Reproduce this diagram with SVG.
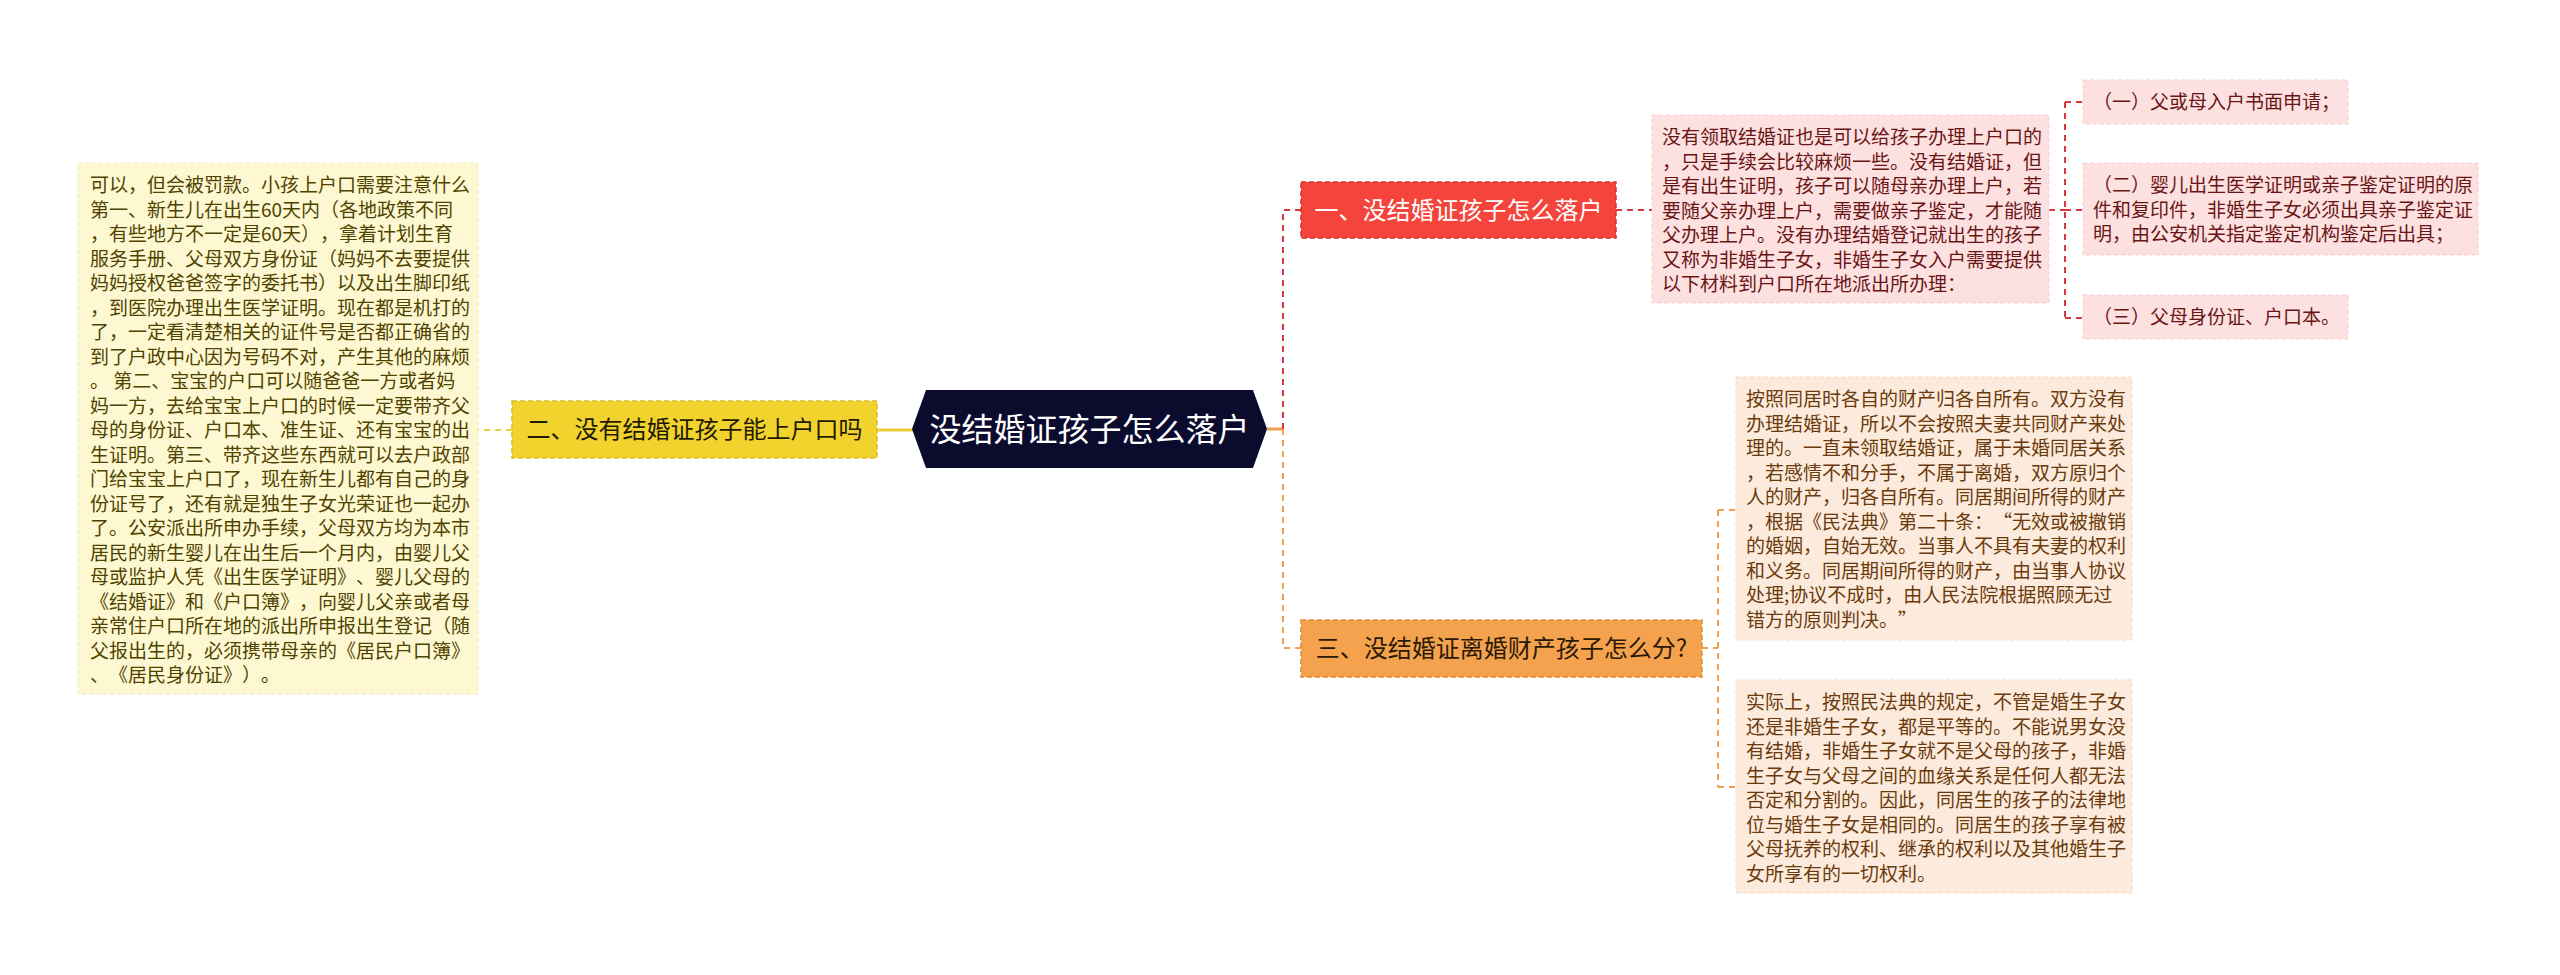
<svg xmlns="http://www.w3.org/2000/svg" width="2560" height="975" viewBox="0 0 2560 975" xml:lang="zh-CN">
<style>
text{font-family:"Noto Sans CJK SC","Noto Sans CJK TC",sans-serif;font-kerning:none;font-feature-settings:"kern" 0;text-spacing-trim:space-all;}
.body{font-size:19px;}
.lbl{font-size:24px;}
.box-y{fill:#fef8d2;stroke:#f3e7ad;stroke-width:1;stroke-dasharray:4 3;}
.box-p{fill:#fde0e0;stroke:#f7cccc;stroke-width:1;stroke-dasharray:4 3;}
.box-o{fill:#fcebdc;stroke:#f5d9bf;stroke-width:1;stroke-dasharray:4 3;}
.t-y{fill:#4f4300;}
.t-p{fill:#6a1515;}
.t-o{fill:#6b3a0c;}
.c-red{fill:none;stroke:#d9363e;stroke-width:2;stroke-dasharray:6 5;}
.c-org{fill:none;stroke:#f0a150;stroke-width:2;stroke-dasharray:6 5;}
.c-yel{fill:none;stroke:#ebcf3a;stroke-width:2;stroke-dasharray:6 5;}
</style>
<rect width="2560" height="975" fill="#ffffff"/>
<g id="connectors">
  <line x1="1267" y1="429" x2="1283" y2="429" stroke="#f0a150" stroke-width="3"/>
  <path class="c-red" d="M1283 429 V210 H1301"/>
  <path class="c-org" d="M1283 429 V648 H1301"/>
  <path class="c-red" d="M1616 210 H1652"/>
  <path class="c-red" d="M2049 210 H2065 M2065 102 V318 M2065 102 H2083 M2065 210 H2083 M2065 318 H2083"/>
  <path class="c-org" d="M1702 648 H1718 M1718 510 V787 M1718 510 H1737 M1718 787 H1737"/>
  <line x1="877" y1="430" x2="914" y2="430" stroke="#ebcf3a" stroke-width="3"/>
  <path class="c-yel" d="M512 430 H478"/>
</g>
<g id="root">
  <polygon points="912,429 926,390 1253,390 1267,429 1253,468 926,468" fill="#0b0b2e"/>
  <text x="1089.5" y="441" font-size="32" fill="#ffffff" text-anchor="middle">没结婚证孩子怎么落户</text>
</g>
<g id="node-yellow">
  <rect x="512" y="401" width="365" height="57" fill="#f2d22c" stroke="#dcbc20" stroke-width="1.5" stroke-dasharray="5 3"/>
  <text x="694.5" y="438" class="lbl" fill="#1f1a00" text-anchor="middle">二、没有结婚证孩子能上户口吗</text>
</g>
<g id="text-left">
  <rect x="78" y="163" width="400" height="531" class="box-y"/>
  <text class="body t-y" x="90" y="192">
    <tspan x="90">可以，但会被罚款。小孩上户口需要注意什么</tspan>
    <tspan x="90" dy="24.5">第一、新生儿在出生60天内（各地政策不同</tspan>
    <tspan x="90" dy="24.5">，有些地方不一定是60天），拿着计划生育</tspan>
    <tspan x="90" dy="24.5">服务手册、父母双方身份证（妈妈不去要提供</tspan>
    <tspan x="90" dy="24.5">妈妈授权爸爸签字的委托书）以及出生脚印纸</tspan>
    <tspan x="90" dy="24.5">，到医院办理出生医学证明。现在都是机打的</tspan>
    <tspan x="90" dy="24.5">了，一定看清楚相关的证件号是否都正确省的</tspan>
    <tspan x="90" dy="24.5">到了户政中心因为号码不对，产生其他的麻烦</tspan>
    <tspan x="90" dy="24.5">。 第二、宝宝的户口可以随爸爸一方或者妈</tspan>
    <tspan x="90" dy="24.5">妈一方，去给宝宝上户口的时候一定要带齐父</tspan>
    <tspan x="90" dy="24.5">母的身份证、户口本、准生证、还有宝宝的出</tspan>
    <tspan x="90" dy="24.5">生证明。第三、带齐这些东西就可以去户政部</tspan>
    <tspan x="90" dy="24.5">门给宝宝上户口了，现在新生儿都有自己的身</tspan>
    <tspan x="90" dy="24.5">份证号了，还有就是独生子女光荣证也一起办</tspan>
    <tspan x="90" dy="24.5">了。公安派出所申办手续，父母双方均为本市</tspan>
    <tspan x="90" dy="24.5">居民的新生婴儿在出生后一个月内，由婴儿父</tspan>
    <tspan x="90" dy="24.5">母或监护人凭《出生医学证明》、婴儿父母的</tspan>
    <tspan x="90" dy="24.5">《结婚证》和《户口簿》，向婴儿父亲或者母</tspan>
    <tspan x="90" dy="24.5">亲常住户口所在地的派出所申报出生登记（随</tspan>
    <tspan x="90" dy="24.5">父报出生的，必须携带母亲的《居民户口簿》</tspan>
    <tspan x="90" dy="24.5">、《居民身份证》）。</tspan>
  </text>
</g>
<g id="node-red">
  <rect x="1301" y="182" width="315" height="56" fill="#f4443c" stroke="#d8302a" stroke-width="1.5" stroke-dasharray="5 3"/>
  <text x="1458.5" y="218.5" class="lbl" fill="#ffffff" text-anchor="middle">一、没结婚证孩子怎么落户</text>
</g>
<g id="text-pink">
  <rect x="1652" y="115" width="397" height="188" class="box-p"/>
  <text class="body t-p" x="1662" y="144">
    <tspan x="1662">没有领取结婚证也是可以给孩子办理上户口的</tspan>
    <tspan x="1662" dy="24.5">，只是手续会比较麻烦一些。没有结婚证，但</tspan>
    <tspan x="1662" dy="24.5">是有出生证明，孩子可以随母亲办理上户，若</tspan>
    <tspan x="1662" dy="24.5">要随父亲办理上户，需要做亲子鉴定，才能随</tspan>
    <tspan x="1662" dy="24.5">父办理上户。没有办理结婚登记就出生的孩子</tspan>
    <tspan x="1662" dy="24.5">又称为非婚生子女，非婚生子女入户需要提供</tspan>
    <tspan x="1662" dy="24.5">以下材料到户口所在地派出所办理：</tspan>
  </text>
</g>
<g id="item-1">
  <rect x="2083" y="80" width="265" height="44" class="box-p"/>
  <text class="body t-p" x="2093" y="109">（一）父或母入户书面申请；</text>
</g>
<g id="item-2">
  <rect x="2083" y="163" width="395" height="92" class="box-p"/>
  <text class="body t-p" x="2093" y="192">
    <tspan x="2093">（二）婴儿出生医学证明或亲子鉴定证明的原</tspan>
    <tspan x="2093" dy="24.5">件和复印件，非婚生子女必须出具亲子鉴定证</tspan>
    <tspan x="2093" dy="24.5">明，由公安机关指定鉴定机构鉴定后出具；</tspan>
  </text>
</g>
<g id="item-3">
  <rect x="2083" y="295" width="265" height="44" class="box-p"/>
  <text class="body t-p" x="2093" y="324">（三）父母身份证、户口本。</text>
</g>
<g id="node-orange">
  <rect x="1301" y="620" width="401" height="57" fill="#f5a24f" stroke="#e08a35" stroke-width="1.5" stroke-dasharray="5 3"/>
  <text x="1501.5" y="657" class="lbl" fill="#2a1a05" text-anchor="middle">三、没结婚证离婚财产孩子怎么分?</text>
</g>
<g id="text-peach-1">
  <rect x="1736" y="377" width="396" height="263" class="box-o"/>
  <text class="body t-o" x="1746" y="406">
    <tspan x="1746">按照同居时各自的财产归各自所有。双方没有</tspan>
    <tspan x="1746" dy="24.5">办理结婚证，所以不会按照夫妻共同财产来处</tspan>
    <tspan x="1746" dy="24.5">理的。一直未领取结婚证，属于未婚同居关系</tspan>
    <tspan x="1746" dy="24.5">，若感情不和分手，不属于离婚，双方原归个</tspan>
    <tspan x="1746" dy="24.5">人的财产，归各自所有。同居期间所得的财产</tspan>
    <tspan x="1746" dy="24.5">，根据《民法典》第二十条：“无效或被撤销</tspan>
    <tspan x="1746" dy="24.5">的婚姻，自始无效。当事人不具有夫妻的权利</tspan>
    <tspan x="1746" dy="24.5">和义务。同居期间所得的财产，由当事人协议</tspan>
    <tspan x="1746" dy="24.5">处理;协议不成时，由人民法院根据照顾无过</tspan>
    <tspan x="1746" dy="24.5">错方的原则判决。”</tspan>
  </text>
</g>
<g id="text-peach-2">
  <rect x="1736" y="680" width="396" height="213" class="box-o"/>
  <text class="body t-o" x="1746" y="709">
    <tspan x="1746">实际上，按照民法典的规定，不管是婚生子女</tspan>
    <tspan x="1746" dy="24.5">还是非婚生子女，都是平等的。不能说男女没</tspan>
    <tspan x="1746" dy="24.5">有结婚，非婚生子女就不是父母的孩子，非婚</tspan>
    <tspan x="1746" dy="24.5">生子女与父母之间的血缘关系是任何人都无法</tspan>
    <tspan x="1746" dy="24.5">否定和分割的。因此，同居生的孩子的法律地</tspan>
    <tspan x="1746" dy="24.5">位与婚生子女是相同的。同居生的孩子享有被</tspan>
    <tspan x="1746" dy="24.5">父母抚养的权利、继承的权利以及其他婚生子</tspan>
    <tspan x="1746" dy="24.5">女所享有的一切权利。</tspan>
  </text>
</g>
</svg>
